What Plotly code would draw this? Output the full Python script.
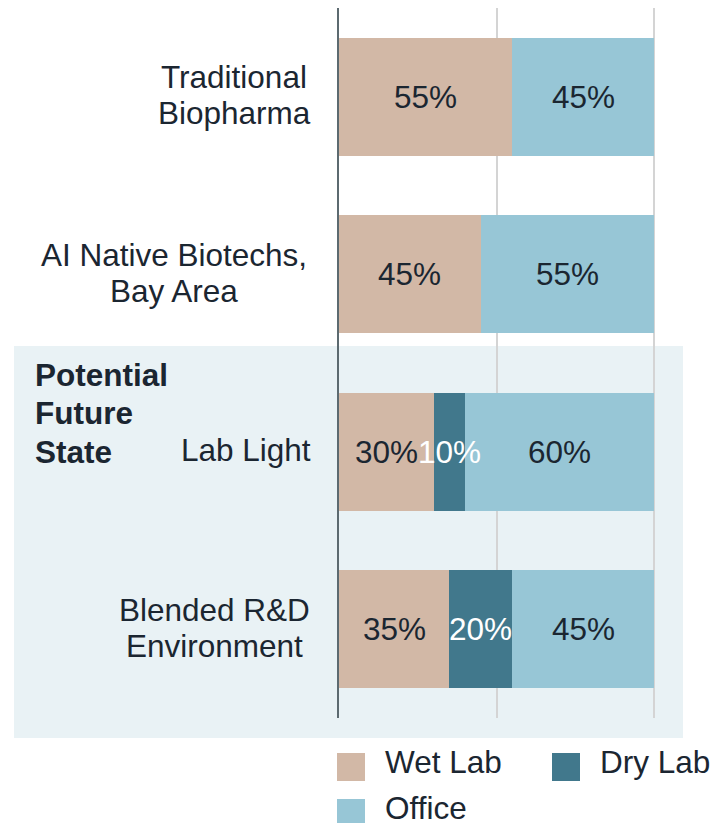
import plotly.graph_objects as go

categories = ["Traditional<br>Biopharma", "AI Native Biotechs,<br>Bay Area", "Lab Light", "Blended R&D<br>Environment"]
series_names = ["Wet Lab", "Dry Lab", "Office"]
wet_lab = [55, 45, 30, 35]
dry_lab = [0, 0, 10, 20]
office = [45, 55, 60, 45]
group_label = ["Potential", "Future", "State"]
x_ticks = [0, 50, 100]

colors = {"Wet Lab": "#d2b8a6", "Dry Lab": "#41788c", "Office": "#97c6d6"}
text_colors = {"Wet Lab": "#1b2631", "Dry Lab": "#ffffff", "Office": "#1b2631"}
TXT = "#1b2631"
FONT = "Liberation Sans, Arial, sans-serif"
FS = 31.5

W, H = 713, 823
L, T = 339, 8
pw, ph = 318, 710
R, B = W - L - pw, H - T - ph
xmax = 100 * pw / 315.0  # so that 100 lands on page x = 654

def px(xp):
    return (xp - L) / pw

def py(yp):
    return (T + ph - yp) / ph

fig = go.Figure()
series = [wet_lab, dry_lab, office]
for name, vals in zip(series_names, series):
    fig.add_trace(go.Bar(
        y=categories, x=vals, name=name, orientation="h",
        marker=dict(color=colors[name], line=dict(width=0)),
        showlegend=False, hoverinfo="skip",
    ))

# value labels on top of all bars (overflowing text stays visible)
base = [0] * len(categories)
for name, vals in zip(series_names, series):
    for i, v in enumerate(vals):
        if v > 0:
            fig.add_annotation(x=base[i] + v / 2, xref="x", y=categories[i], yref="y",
                               text=f"{v}%", xanchor="center", yanchor="middle",
                               showarrow=False,
                               font=dict(family=FONT, size=FS, color=text_colors[name]))
        base[i] += v

# shaded region for future state
fig.add_shape(type="rect", xref="paper", yref="paper",
              x0=px(14), x1=px(683), y0=py(738), y1=py(346),
              fillcolor="#e9f2f5", line=dict(width=0), layer="below")

# category labels: centred lines
label_centers = [234, 174.5, 245.5, 214.5]
LS = 36
for cat, cx in zip(categories, label_centers):
    lines = cat.split("<br>")
    n = len(lines)
    for i, line in enumerate(lines):
        fig.add_annotation(x=px(cx), xref="paper", y=cat, yref="y", text=line,
                           xanchor="center", yanchor="middle", showarrow=False,
                           yshift=((n - 1) / 2 - i) * LS + 1.5,
                           font=dict(family=FONT, size=FS, color=TXT))

group_y = [374.5, 413, 452.5]
for line, gy in zip(group_label, group_y):
    fig.add_annotation(x=px(35), xref="paper", y=py(gy), yref="paper",
                       text="<b>" + line + "</b>", xanchor="left", yanchor="middle",
                       xshift=-2, showarrow=False,
                       font=dict(family=FONT, size=FS, color=TXT))

# legend
legend_pos = {"Wet Lab": (337, 753, 385, 762), "Dry Lab": (552, 753, 600, 762),
              "Office": (337, 799, 385, 808)}
for name in series_names:
    x0, y0, tx, ty = legend_pos[name]
    fig.add_shape(type="rect", xref="paper", yref="paper",
                  x0=px(x0), x1=px(x0 + 28), y0=py(y0 + 28), y1=py(y0),
                  fillcolor=colors[name], line=dict(width=0))
    fig.add_annotation(x=px(tx), xref="paper", y=py(ty), yref="paper",
                       text=name, xanchor="left", yanchor="middle", xshift=-2,
                       showarrow=False,
                       font=dict(family=FONT, size=FS, color=TXT))

fig.update_layout(
    barmode="stack", bargap=0.335,
    width=W, height=H, margin=dict(l=L, r=R, t=T, b=B, pad=0, autoexpand=False),
    paper_bgcolor="white", plot_bgcolor="rgba(0,0,0,0)",
    showlegend=False,
    font=dict(family=FONT, size=FS, color=TXT),
    xaxis=dict(range=[0, xmax], tickvals=x_ticks, showticklabels=False,
               showgrid=True, gridcolor="#d4d4d4", gridwidth=2,
               zeroline=False, showline=False, fixedrange=True),
    yaxis=dict(categoryorder="array", categoryarray=categories, autorange="reversed",
               showticklabels=False, showgrid=False, zeroline=False,
               showline=True, linecolor="#5c6a70", linewidth=2, ticks="",
               fixedrange=True),
)

fig.write_html("out.html", config={"displayModeBar": False, "staticPlot": True},
               post_script="document.body.style.margin='0';document.body.style.overflow='hidden';")
